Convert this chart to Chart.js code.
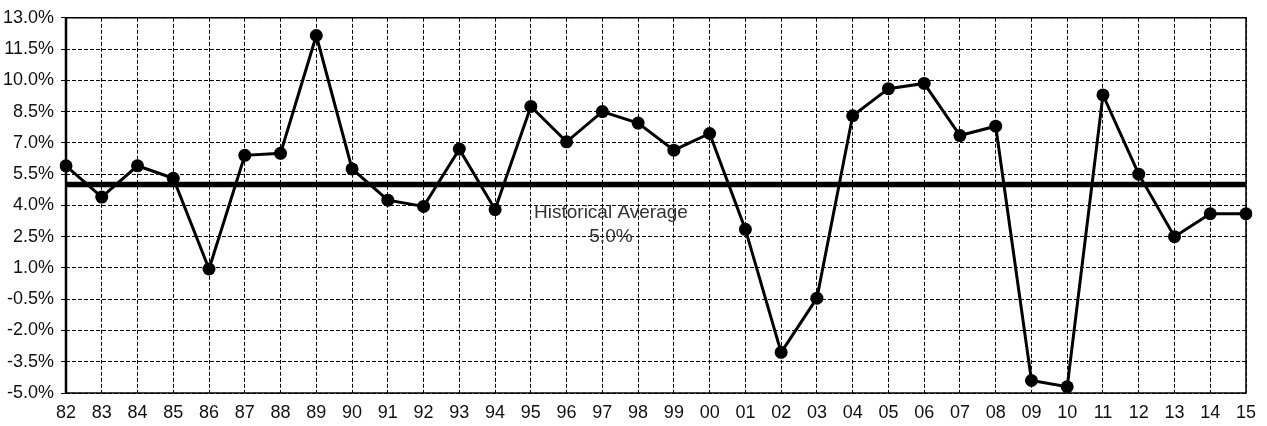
<!DOCTYPE html>
<html lang="en">
<head>
    <meta charset="UTF-8">
    <title>Annual Returns vs Historical Average</title>
    <script src="https://cdn.jsdelivr.net/npm/chart.js"></script>
    <style>
        body { margin: 0; background: #fff; }
        #wrap { width: 1267px; height: 426px; position: relative; }
    </style>
</head>
<body>
    <div id="wrap">
        <canvas id="returnsChart"></canvas>
    </div>

    <script>
        // years and yearly values
        const years = ['82', '83', '84', '85', '86', '87', '88', '89', '90', '91',
                       '92', '93', '94', '95', '96', '97', '98', '99', '00', '01',
                       '02', '03', '04', '05', '06', '07', '08', '09', '10', '11',
                       '12', '13', '14', '15'];
        const returns = [5.9, 4.4, 5.9, 5.3, 0.95, 6.4, 6.5, 12.15, 5.75, 4.25,
                         3.95, 6.7, 3.8, 8.75, 7.05, 8.5, 7.95, 6.65, 7.45, 2.85,
                         -3.05, -0.45, 8.3, 9.6, 9.85, 7.35, 7.8, -4.4, -4.7, 9.3,
                         5.5, 2.5, 3.6, 3.6];
        const historicalAvg = 5.0;
        const avgLabel = ['Historical Average', '5.0%'];
        const yMin = -5, yMax = 13, yStep = 1.5;

        const FONT = "'Liberation Sans', Arial, sans-serif";
        const NARROW = "'Liberation Sans Narrow', 'Arial Narrow', 'Liberation Sans', Arial, sans-serif";

        // frame around the plot + the average label
        const extras = {
            id: 'extras',
            afterDraw(chart) {
                const { ctx, chartArea: a, scales: { x, y } } = chart;
                ctx.save();
                ctx.strokeStyle = '#000';
                ctx.lineWidth = 1.5;
                ctx.strokeRect(a.left, a.top, a.right - a.left, a.bottom - a.top);
                ctx.lineWidth = 2.5;
                ctx.beginPath();
                ctx.moveTo(a.left, a.top);
                ctx.lineTo(a.left, a.bottom);
                ctx.stroke();

                ctx.fillStyle = '#333';
                ctx.font = '19px ' + FONT;
                ctx.textAlign = 'center';
                ctx.textBaseline = 'middle';
                const cx = x.getPixelForValue(15.24);
                const cy = y.getPixelForValue(historicalAvg);
                ctx.fillText(avgLabel[0], cx, cy + 28);
                ctx.fillText(avgLabel[1], cx, cy + 52);
                ctx.restore();
            }
        };

        const ctx = document.getElementById('returnsChart').getContext('2d');
        new Chart(ctx, {
            type: 'line',
            data: {
                labels: years,
                datasets: [{
                    label: 'Return',
                    data: returns,
                    borderColor: '#000',
                    backgroundColor: '#000',
                    borderWidth: 3,
                    pointRadius: 6.5,
                    pointBackgroundColor: '#000',
                    pointBorderWidth: 0,
                    tension: 0,
                    order: 1
                }, {
                    label: 'Historical Average',
                    data: years.map(() => historicalAvg),
                    borderColor: '#000',
                    borderWidth: 5.5,
                    pointRadius: 0,
                    order: 2
                }]
            },
            options: {
                responsive: true,
                maintainAspectRatio: false,
                animation: false,
                layout: { padding: { left: 0, right: 21, top: 13, bottom: 0 } },
                plugins: {
                    legend: { display: false },
                    tooltip: { enabled: false }
                },
                scales: {
                    x: {
                        offset: false,
                        grid: { color: '#000', lineWidth: 1, drawTicks: false },
                        border: { display: false, dash: [4, 2] },
                        ticks: {
                            color: '#111',
                            padding: 9,
                            maxRotation: 0,
                            autoSkip: false,
                            font: { family: NARROW, size: 18 }
                        },
                        afterFit(scale) { scale.height = 33; }
                    },
                    y: {
                        min: yMin,
                        max: yMax,
                        grid: { color: '#000', lineWidth: 1, tickLength: 5 },
                        border: { display: false, dash: [4, 2] },
                        ticks: {
                            stepSize: yStep,
                            color: '#111',
                            padding: 7,
                            font: { family: NARROW, size: 18 },
                            callback: v => v.toFixed(1) + '%'
                        },
                        afterFit(scale) { scale.width = 66; }
                    }
                }
            },
            plugins: [extras]
        });
    </script>
</body>
</html>
